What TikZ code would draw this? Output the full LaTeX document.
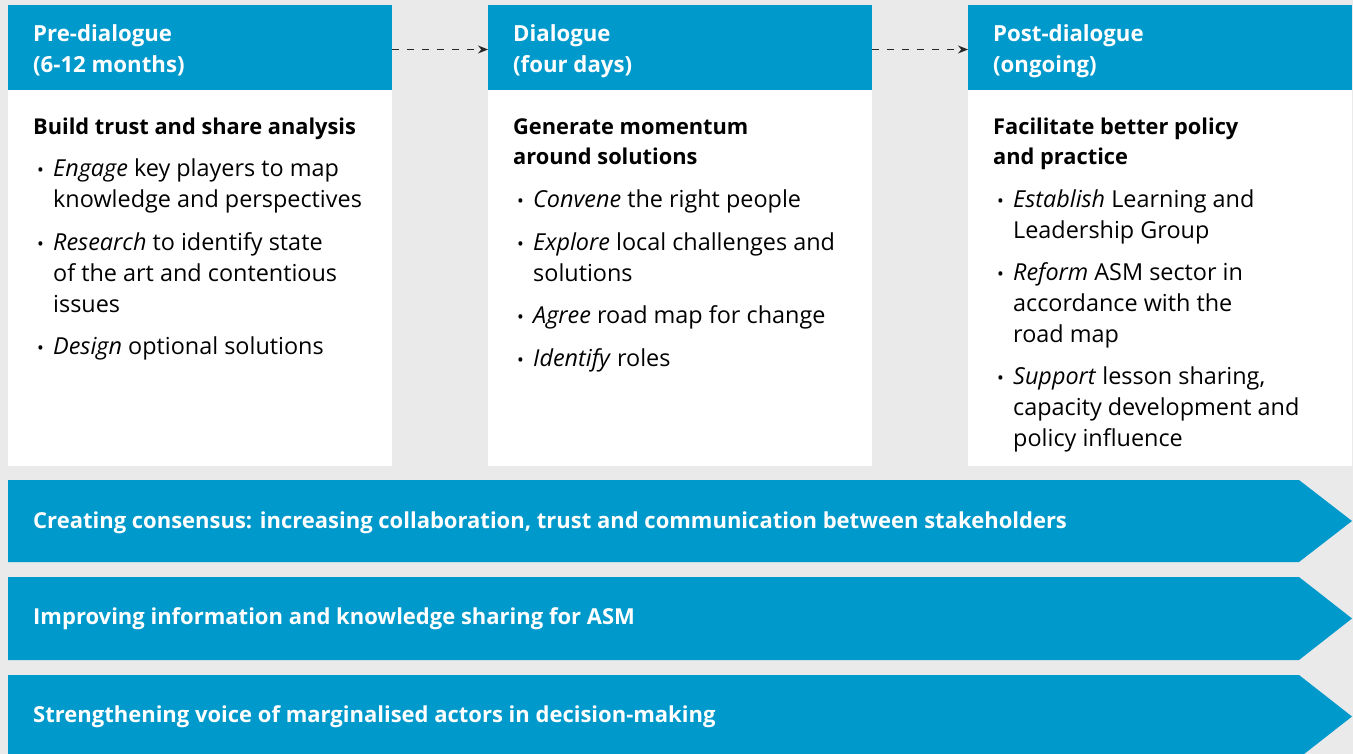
\documentclass[tikz,border=0pt]{standalone}
\usepackage{fontspec}
\setmainfont{Open Sans}
\usetikzlibrary{arrows.meta}
\definecolor{iiedblue}{RGB}{0,153,204}
\definecolor{bggrey}{RGB}{234,234,234}
\definecolor{arrowgrey}{RGB}{40,40,40}
\newcommand{\bul}{\strut\llap{\makebox[16pt][l]{\fontsize{18}{18}\selectfont\textbullet}}}
\begin{document}
\begin{tikzpicture}[x=1pt,y=-1pt,
  hdr/.style={fill=iiedblue, draw=none, minimum width=384pt, minimum height=85pt, anchor=north west, inner sep=0pt, outer sep=0pt},
  bodybox/.style={fill=white, draw=none, minimum width=384pt, minimum height=376pt, anchor=north west, inner sep=0pt, outer sep=0pt},
  hdrtext/.style={anchor=north west, inner sep=0pt, align=left, text=white, font=\fontsize{22.2}{31}\selectfont\bfseries},
  ttl/.style={anchor=north west, inner sep=0pt, align=left, font=\fontsize{21.8}{30.5}\selectfont\bfseries},
  itm/.style={anchor=north west, inner sep=0pt, align=left, font=\fontsize{23.4}{30.7}\selectfont},
  band/.style={fill=iiedblue, draw=none},
  bandtext/.style={anchor=base west, inner sep=0pt, text=white, font=\fontsize{22}{25}\selectfont\bfseries},
  flow/.style={draw=arrowgrey, line width=1.2pt, dash pattern=on 7pt off 8pt, -{Stealth[length=10pt,width=8pt]}}
]
\useasboundingbox (0,0) rectangle (1353,754);
\begin{scope}
\clip (0,0) rectangle (1353,754);
\fill[bggrey] (0,0) rectangle (1353,754);

% column boxes
\node[bodybox] (b1) at (8,90) {};
\node[bodybox] (b2) at (488,90) {};
\node[bodybox] (b3) at (968,90) {};
\node[hdr] (h1) at (8,5) {};
\node[hdr] (h2) at (488,5) {};
\node[hdr] (h3) at (968,5) {};

% header texts
\node[hdrtext] (ht1) at (33,19.8) {\strut Pre-dialogue\\(6-12 months)};
\node[hdrtext] (ht2) at (513,19.8) {\strut Dialogue\\(four days)};
\node[hdrtext] (ht3) at (993,19.8) {\strut Post-dialogue\\(ongoing)};

% arrows between headers
\draw[flow] ([yshift=-2pt]h1.east) -- ([yshift=-2pt]h2.west);
\draw[flow] ([yshift=-2pt]h2.east) -- ([yshift=-2pt]h3.west);

% column 1
\node[ttl] (t1) at (33,112.65) {\strut Build trust and share analysis};
\node[itm] (i11) at (53,155.3) {\bul\textit{Engage} key players to map\\knowledge and perspectives};
\node[itm] (i12) at (53,229.3) {\bul\textit{Research} to identify state\\of the art and contentious\\issues};
\node[itm] (i13) at (53,333.3) {\bul\textit{Design} optional solutions};

% column 2
\node[ttl] (t2) at (513,112.65) {\strut Generate momentum\\around solutions};
\node[itm] (i21) at (533,186.3) {\bul\textit{Convene} the right people};
\node[itm] (i22) at (533,229.3) {\bul\textit{Explore} local challenges and\\solutions};
\node[itm] (i23) at (533,302.3) {\bul\textit{Agree} road map for change};
\node[itm] (i24) at (533,345.3) {\bul\textit{Identify} roles};

% column 3
\node[ttl] (t3) at (993,112.65) {\strut Facilitate better policy\\and practice};
\node[itm] (i31) at (1013,186.3) {\bul\textit{Establish} Learning and\\Leadership Group};
\node[itm] (i32) at (1013,259.3) {\bul\textit{Reform} ASM sector in\\accordance with the\\road map};
\node[itm] (i33) at (1013,363.3) {\bul\textit{Support} lesson sharing,\\capacity development and\\policy influence};

% bands
\fill[band] (8,480) -- (1299,480) -- (1352,521) -- (1299,562) -- (8,562) -- cycle;
\fill[band] (8,577) -- (1299,577) -- (1352,618.5) -- (1299,660) -- (8,660) -- cycle;
\fill[band] (8,675) -- (1299,675) -- (1352,716.5) -- (1299,758) -- (8,758) -- cycle;
\node[bandtext] (bt1) at (33,528) {Creating consensus: increasing collaboration, trust and communication between stakeholders};
\node[bandtext] (bt2) at (33,624) {Improving information and knowledge sharing for ASM};
\node[bandtext] (bt3) at (33,722) {Strengthening voice of marginalised actors in decision-making};
\end{scope}
\end{tikzpicture}
\end{document}
